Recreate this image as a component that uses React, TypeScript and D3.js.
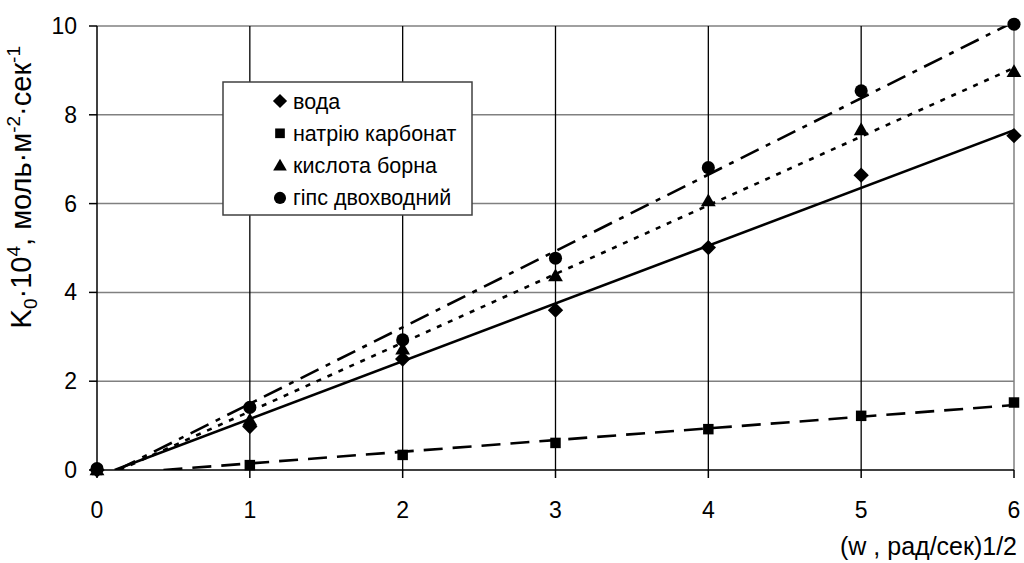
import React from "react";
import * as d3 from "d3";

const xValues = [0, 1, 2, 3, 4, 5, 6];
const voda = [0, 0.98, 2.5, 3.6, 5.01, 6.64, 7.53];
const natriyu = [0, 0.11, 0.34, 0.61, 0.92, 1.22, 1.52];
const kyslota = [0, 1.12, 2.72, 4.37, 6.06, 7.66, 8.97];
const gips = [0.03, 1.41, 2.93, 4.77, 6.81, 8.54, 10.04];
const seriesNames = ["вода", "натрію карбонат", "кислота борна", "гіпс двохводний"];
const xTicks = [0, 1, 2, 3, 4, 5, 6];
const yTicks = [0, 2, 4, 6, 8, 10];

const FONT = "'Liberation Sans', Arial, sans-serif";
const W = 1024, H = 563;
const x = d3.scaleLinear().domain([0, 6]).range([97, 1014]);
const y = d3.scaleLinear().domain([0, 10]).range([470, 26]);

type Kind = "diamond" | "square" | "triangle" | "circle";
const series: { name: string; values: number[]; kind: Kind; dash: string }[] = [
  { name: seriesNames[0], values: voda, kind: "diamond", dash: "none" },
  { name: seriesNames[1], values: natriyu, kind: "square", dash: "19,10" },
  { name: seriesNames[2], values: kyslota, kind: "triangle", dash: "5,7" },
  { name: seriesNames[3], values: gips, kind: "circle", dash: "20,8,5,8" },
];

function regression(xs: number[], ys: number[]) {
  const mx = d3.mean(xs)!, my = d3.mean(ys)!;
  let sxy = 0, sxx = 0;
  xs.forEach((v, i) => { sxy += (v - mx) * (ys[i] - my); sxx += (v - mx) * (v - mx); });
  const m = sxy / sxx;
  return { m, b: my - m * mx };
}

function Marker({ kind, cx, cy, s = 1 }: { kind: Kind; cx: number; cy: number; s?: number }) {
  const sym =
    kind === "diamond" ? d3.symbol(d3.symbolDiamond2, 150 * s)
      : kind === "square" ? d3.symbol(d3.symbolSquare, 110 * s)
        : kind === "triangle" ? d3.symbol(d3.symbolTriangle, 95 * s)
          : d3.symbol(d3.symbolCircle, 135 * s);
  const dy = kind === "triangle" ? 1 : 0;
  return <path d={sym()!} transform={`translate(${cx},${cy + dy})`} fill="#000" />;
}

export default function App() {
  const line = d3.line<[number, number]>().x(d => x(d[0])).y(d => y(d[1]));
  return (
    <svg width={W} height={H} style={{ position: "absolute", left: 0, top: 0, background: "#fff" }} fontFamily={FONT}>
      <defs>
        <clipPath id="plot">
          <rect x={x(0)} y={y(10)} width={x(6) - x(0)} height={y(0) - y(10)} />
        </clipPath>
      </defs>
      {/* horizontal gridlines */}
      {yTicks.filter(t => t > 0).map(t => (
        <line key={"h" + t} x1={x(0)} x2={x(6)} y1={y(t)} y2={y(t)} stroke="#808080" strokeWidth={1.5} />
      ))}
      {/* vertical gridlines */}
      {xTicks.filter(t => t > 0 && t < 6).map(t => (
        <line key={"v" + t} x1={x(t)} x2={x(t)} y1={y(10)} y2={y(0)} stroke="#000" strokeWidth={1.3} />
      ))}
      <line x1={x(6)} x2={x(6)} y1={y(10)} y2={y(0)} stroke="#808080" strokeWidth={1.5} />
      {/* axes */}
      <line x1={x(0)} x2={x(0)} y1={y(10)} y2={y(0)} stroke="#000" strokeWidth={1.5} />
      <line x1={x(0)} x2={x(6)} y1={y(0)} y2={y(0)} stroke="#000" strokeWidth={1.5} />
      {yTicks.map(t => (
        <g key={"yt" + t}>
          <line x1={x(0) - 8} x2={x(0)} y1={y(t)} y2={y(t)} stroke="#000" strokeWidth={1.5} />
          <text x={x(0) - 20} y={y(t)} dy="0.35em" textAnchor="end" fontSize={23}>{t}</text>
        </g>
      ))}
      {xTicks.map(t => (
        <g key={"xt" + t}>
          <line x1={x(t)} x2={x(t)} y1={y(0)} y2={y(0) + 8} stroke="#000" strokeWidth={1.5} />
          <text x={x(t)} y={518} textAnchor="middle" fontSize={23}>{t}</text>
        </g>
      ))}
      {/* trendlines */}
      <g clipPath="url(#plot)">
        {series.map(s => {
          const { m, b } = regression(xValues, s.values);
          const x0 = Math.max(0, -b / m);
          const pts: [number, number][] = [[x0, m * x0 + b], [6, m * 6 + b]];
          return (
            <path key={"l" + s.name} d={line(pts)!} fill="none" stroke="#000" strokeWidth={2.6}
              strokeDasharray={s.dash} />
          );
        })}
      </g>
      {/* markers */}
      {series.map(s => (
        <g key={"m" + s.name}>
          {s.values.map((v, i) => (
            <Marker key={i} kind={s.kind} cx={x(xValues[i])} cy={y(v)} />
          ))}
        </g>
      ))}
      {/* legend */}
      <rect x={223} y={82} width={249} height={133} fill="#fff" stroke="#404040" strokeWidth={1.5} />
      {series.map((s, i) => (
        <g key={"lg" + s.name}>
          <Marker kind={s.kind} cx={280} cy={101 + i * 32.3} s={0.85} />
          <text x={293} y={101 + i * 32.3} dy="0.35em" fontSize={21.5}>{s.name}</text>
        </g>
      ))}
      {/* axis titles */}
      <text transform="translate(31,46) rotate(-90)" textAnchor="end" fontSize={29}>
        <tspan>K</tspan>
        <tspan fontSize={19} dy={6}>0</tspan>
        <tspan dy={-6}>·10</tspan>
        <tspan fontSize={19} dy={-11}>4</tspan>
        <tspan dy={11}>, моль·м</tspan>
        <tspan fontSize={19} dy={-11}>-2</tspan>
        <tspan dy={11}>·сек</tspan>
        <tspan fontSize={19} dy={-11}>-1</tspan>
      </text>
      <text x={1017} y={555} textAnchor="end" fontSize={25}>(w , рад/сек)1/2</text>
    </svg>
  );
}
